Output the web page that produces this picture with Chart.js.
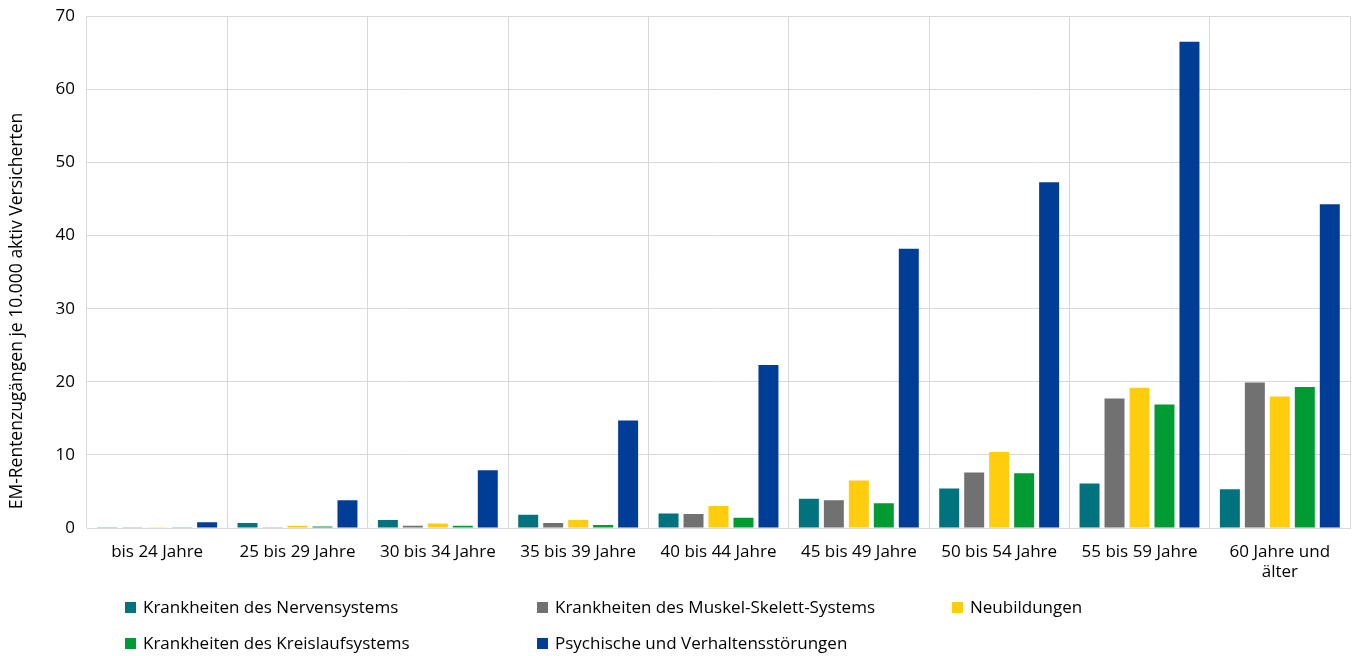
<!DOCTYPE html>
<html>
<head>
<meta charset="utf-8">
<script src="https://cdn.jsdelivr.net/npm/chart.js@4/dist/chart.umd.min.js"></script>
<style>
  body { margin: 0; background: #fff; font-family: "Open Sans", sans-serif; }
  #wrap { position: relative; width: 1354px; height: 656px; }
  #legend { position: absolute; left: 0; top: 0; width: 1354px; height: 656px; pointer-events: none; }
  .item { position: absolute; font-size: 17px; color: #000; white-space: nowrap; line-height: 22px; }
  .item span { display: inline-block; width: 11px; height: 11px; margin-right: 7px; vertical-align: 0px; }
</style>
</head>
<body>
<div id="wrap">
  <canvas id="chart" width="1354" height="656"></canvas>
  <div id="legend"></div>
</div>
<script>
const categories = [
  "bis 24 Jahre", "25 bis 29 Jahre", "30 bis 34 Jahre", "35 bis 39 Jahre",
  "40 bis 44 Jahre", "45 bis 49 Jahre", "50 bis 54 Jahre", "55 bis 59 Jahre",
  ["60 Jahre und", "älter"],
];
const seriesNames = [
  "Krankheiten des Nervensystems",
  "Krankheiten des Muskel-Skelett-Systems",
  "Neubildungen",
  "Krankheiten des Kreislaufsystems",
  "Psychische und Verhaltensstörungen",
];
const nerven = [0.1, 0.7, 1.1, 1.8, 2.0, 4.0, 5.4, 6.1, 5.3];
const muskel = [0.05, 0.05, 0.3, 0.7, 1.9, 3.8, 7.6, 17.7, 19.9];
const neubildungen = [0.05, 0.3, 0.6, 1.1, 3.0, 6.5, 10.4, 19.2, 18.0];
const kreislauf = [0.02, 0.2, 0.3, 0.4, 1.4, 3.4, 7.5, 16.9, 19.3];
const psyche = [0.8, 3.8, 7.9, 14.7, 22.3, 38.2, 47.3, 66.5, 44.3];
const colors = ["#00737F", "#727171", "#FFCC0E", "#009B33", "#003D96"];
const yTicks = [0, 10, 20, 30, 40, 50, 60, 70];
const yTitle = "EM-Rentenzugängen je 10.000 aktiv Versicherten";

const allSeries = [nerven, muskel, neubildungen, kreislauf, psyche];
const font = { family: "Open Sans", size: 17 };

// y title drawn by hand so it can sit a bit lower than the plot centre, like the original
const yTitlePlugin = {
  id: "yTitle",
  afterDraw(chart) {
    const ctx = chart.ctx;
    ctx.save();
    ctx.translate(17, 311);
    ctx.rotate(-Math.PI / 2);
    ctx.font = `17.5px ${font.family}`;
    ctx.fillStyle = "#000";
    ctx.textAlign = "center";
    ctx.textBaseline = "middle";
    ctx.fillText(yTitle, 0, 0);
    ctx.restore();
  },
};

new Chart(document.getElementById("chart"), {
  type: "bar",
  data: {
    labels: categories,
    datasets: allSeries.map((values, i) => ({
      label: seriesNames[i],
      data: values,
      backgroundColor: colors[i],
      borderWidth: 0,
      barPercentage: 0.8,
      categoryPercentage: 0.89,
    })),
  },
  options: {
    responsive: false,
    animation: false,
    layout: { padding: { top: 15, right: 4, bottom: 0, left: 0 } },
    plugins: { legend: { display: false }, tooltip: { enabled: false } },
    scales: {
      x: {
        grid: { color: "#d9d9d9", lineWidth: 1, drawTicks: false, offset: true },
        border: { color: "#d9d9d9" },
        ticks: { color: "#000", font: font, padding: 14, maxRotation: 0 },
        afterFit: (scale) => { scale.height = 128; },
      },
      y: {
        min: 0,
        max: 70,
        afterBuildTicks: (scale) => { scale.ticks = yTicks.map((v) => ({ value: v })); },
        grid: { color: "#d9d9d9", lineWidth: 1, drawTicks: false },
        border: { display: false },
        ticks: { color: "#000", font: { family: "Open Sans", size: 17, lineHeight: 0.5 }, padding: 12 },
        afterFit: (scale) => { scale.width = 87; },
      },
    },
  },
  plugins: [yTitlePlugin],
});

// legend laid out in the reference's fixed columns
const legendPos = [[125, 596], [537, 596], [952, 596], [125, 632], [537, 632]];
const legend = document.getElementById("legend");
seriesNames.forEach((name, i) => {
  const div = document.createElement("div");
  div.className = "item";
  div.style.left = legendPos[i][0] + "px";
  div.style.top = legendPos[i][1] + "px";
  div.innerHTML = `<span style="background:${colors[i]}"></span>${name}`;
  legend.appendChild(div);
});
</script>
</body>
</html>
